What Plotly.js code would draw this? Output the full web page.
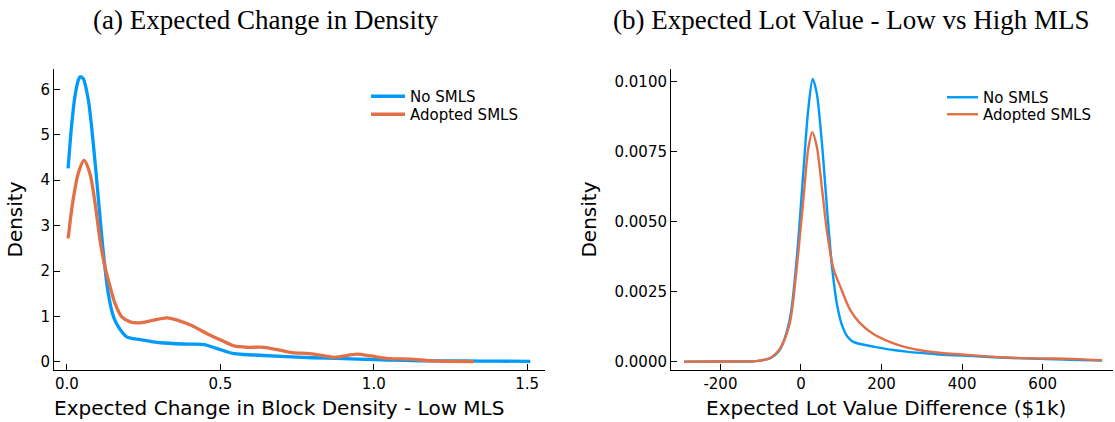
<!DOCTYPE html>
<html>
<head>
<meta charset="utf-8">
<script src="https://cdn.plot.ly/plotly-3.0.1.min.js"></script>
<style>html,body{margin:0;padding:0;background:#fff;}#chart{width:1115px;height:422px;}</style>
</head>
<body>
<div id="chart"></div>
<script>
// Panel (a): Expected change in block density
const aNoX = [0.004, 0.015, 0.026, 0.037, 0.043, 0.053, 0.07, 0.086, 0.103, 0.119, 0.135, 0.152, 0.168, 0.195, 0.24, 0.305, 0.39, 0.447, 0.49, 0.545, 0.61, 0.70, 0.8, 0.9, 1.0, 1.1, 1.2, 1.3, 1.4, 1.51];
const aNoY = [4.26, 5.18, 5.84, 6.2, 6.28, 6.24, 5.76, 4.81, 3.56, 2.39, 1.5, 0.99, 0.77, 0.55, 0.49, 0.42, 0.39, 0.38, 0.29, 0.18, 0.15, 0.12, 0.09, 0.07, 0.05, 0.03, 0.02, 0.02, 0.015, 0.01];
const aAdX = [0.004, 0.02, 0.037, 0.056, 0.075, 0.092, 0.108, 0.124, 0.141, 0.157, 0.179, 0.206, 0.239, 0.283, 0.326, 0.359, 0.403, 0.457, 0.501, 0.545, 0.588, 0.643, 0.698, 0.728, 0.804, 0.87, 0.946, 0.99, 1.054, 1.12, 1.185, 1.25, 1.326];
const aAdY = [2.72, 3.56, 4.15, 4.44, 4.15, 3.49, 2.68, 2.09, 1.65, 1.28, 0.99, 0.88, 0.86, 0.92, 0.97, 0.92, 0.81, 0.62, 0.48, 0.35, 0.32, 0.32, 0.25, 0.21, 0.17, 0.1, 0.17, 0.13, 0.07, 0.06, 0.02, 0.01, 0.005];

// Panel (b): Expected lot value difference
const bNoX = [-290, -200, -150, -112, -78, -53, -28, -11, 6, 18, 29, 39, 52, 65, 77, 90, 103, 115, 130, 179, 262, 344, 426, 509, 591, 673, 747];
const bNoY = [0, 0.00001, 0.00001, 0.00002, 0.00012, 0.00042, 0.0015, 0.0036, 0.0068, 0.009, 0.0101, 0.0096, 0.0078, 0.0054, 0.0034, 0.002, 0.00125, 0.0009, 0.00071, 0.00054, 0.00036, 0.00026, 0.0002, 0.00014, 0.0001, 0.00007, 0.00004];
const bAdX = [-290, -200, -150, -112, -78, -53, -28, -11, 6, 18, 28, 39, 52, 65, 81, 97, 122, 147, 179, 220, 262, 303, 344, 426, 509, 591, 673, 747];
const bAdY = [0, 0.00001, 0.00001, 0.00002, 0.00012, 0.00045, 0.00137, 0.0033, 0.0058, 0.0076, 0.0082, 0.0077, 0.0062, 0.0046, 0.0033, 0.0027, 0.00185, 0.00137, 0.001, 0.00071, 0.00051, 0.00039, 0.00032, 0.00023, 0.00015, 0.00012, 0.0001, 0.00005];

const seriesNames = ["No SMLS", "Adopted SMLS"];
const aXTickVals = [0, 0.5, 1.0, 1.5];
const aXTickText = ["0.0", "0.5", "1.0", "1.5"];
const aYTickVals = [0, 1, 2, 3, 4, 5, 6];
const bXTickVals = [-200, 0, 200, 400, 600];
const bXTickText = ["-200", "0", "200", "400", "600"];
const bYTickVals = [0, 0.0025, 0.005, 0.0075, 0.01];
const bYTickText = ["0.0000", "0.0025", "0.0050", "0.0075", "0.0100"];

const BLUE = "#009AFA", ORANGE = "#E26F46";
const W = 1115, H = 422;
const px = v => v / W, py = v => (H - v) / H;

const traces = [
  {x: aNoX, y: aNoY, name: seriesNames[0], type: "scatter", mode: "lines", line: {color: BLUE, width: 3.3, shape: "spline", smoothing: 0.8}, xaxis: "x", yaxis: "y", legend: "legend"},
  {x: aAdX, y: aAdY, name: seriesNames[1], type: "scatter", mode: "lines", line: {color: ORANGE, width: 3.3, shape: "spline", smoothing: 0.8}, xaxis: "x", yaxis: "y", legend: "legend2"},
  {x: bNoX, y: bNoY, name: seriesNames[0], type: "scatter", mode: "lines", line: {color: BLUE, width: 2.4, shape: "spline", smoothing: 0.8}, xaxis: "x2", yaxis: "y2", legend: "legend3"},
  {x: bAdX, y: bAdY, name: seriesNames[1], type: "scatter", mode: "lines", line: {color: ORANGE, width: 2.4, shape: "spline", smoothing: 0.8}, xaxis: "x2", yaxis: "y2", legend: "legend4"}
];

const tickFont = {family: "DejaVu Sans", size: 15, color: "#000"};
const titleFont = {family: "DejaVu Sans", size: 20, color: "#000"};
const axCommon = {showgrid: false, zeroline: false, showline: true, linecolor: "#000", linewidth: 1, ticks: "inside", ticklen: 6, tickcolor: "#000", tickfont: tickFont, mirror: false};
const legFont = {family: "DejaVu Sans", size: 15, color: "#000"};
const legBase = {xanchor: "left", yanchor: "top", bgcolor: "rgba(0,0,0,0)", borderwidth: 0, font: legFont, tracegroupgap: 0};

const layout = {
  width: W, height: H,
  margin: {l: 0, r: 0, t: 0, b: 0},
  paper_bgcolor: "#fff", plot_bgcolor: "#fff",
  showlegend: true,
  xaxis: Object.assign({}, axCommon, {domain: [px(54), px(545)], range: [-0.042, 1.558], tickvals: aXTickVals, ticktext: aXTickText, anchor: "y"}),
  yaxis: Object.assign({}, axCommon, {domain: [py(370), py(69)], range: [-0.18, 6.45], tickvals: aYTickVals, anchor: "x",
    title: {text: "Density", font: titleFont, standoff: 12}}),
  xaxis2: Object.assign({}, axCommon, {domain: [px(671), px(1113)], range: [-322.7, 774.6], tickvals: bXTickVals, ticktext: bXTickText, anchor: "y2"}),
  yaxis2: Object.assign({}, axCommon, {domain: [py(370), py(69)], range: [-0.000296, 0.010453], tickvals: bYTickVals, ticktext: bYTickText, anchor: "x2",
    title: {text: "Density", font: titleFont, standoff: 12}}),
  legend: Object.assign({}, legBase, {x: px(366), y: py(80), itemwidth: 34}),
  legend2: Object.assign({}, legBase, {x: px(366), y: py(98), itemwidth: 34}),
  legend3: Object.assign({}, legBase, {x: px(942), y: py(81), itemwidth: 31}),
  legend4: Object.assign({}, legBase, {x: px(942), y: py(98), itemwidth: 31}),
  annotations: [
    {text: "(a) Expected Change in Density", xref: "paper", yref: "paper", x: px(265), y: py(20), xanchor: "center", yanchor: "middle", showarrow: false, font: {family: "Liberation Serif", size: 27, color: "#000"}},
    {text: "(b) Expected Lot Value - Low vs High MLS", xref: "paper", yref: "paper", x: px(851), y: py(20), xanchor: "center", yanchor: "middle", showarrow: false, font: {family: "Liberation Serif", size: 27, color: "#000"}},
    {text: "Expected Change in Block Density - Low MLS", xref: "paper", yref: "paper", x: px(279), y: py(408), xanchor: "center", yanchor: "middle", showarrow: false, font: titleFont},
    {text: "Expected Lot Value Difference ($1k)", xref: "paper", yref: "paper", x: px(886), y: py(408), xanchor: "center", yanchor: "middle", showarrow: false, font: titleFont}
  ]
};

Plotly.newPlot("chart", traces, layout, {displayModeBar: false, staticPlot: true});
</script>
</body>
</html>
